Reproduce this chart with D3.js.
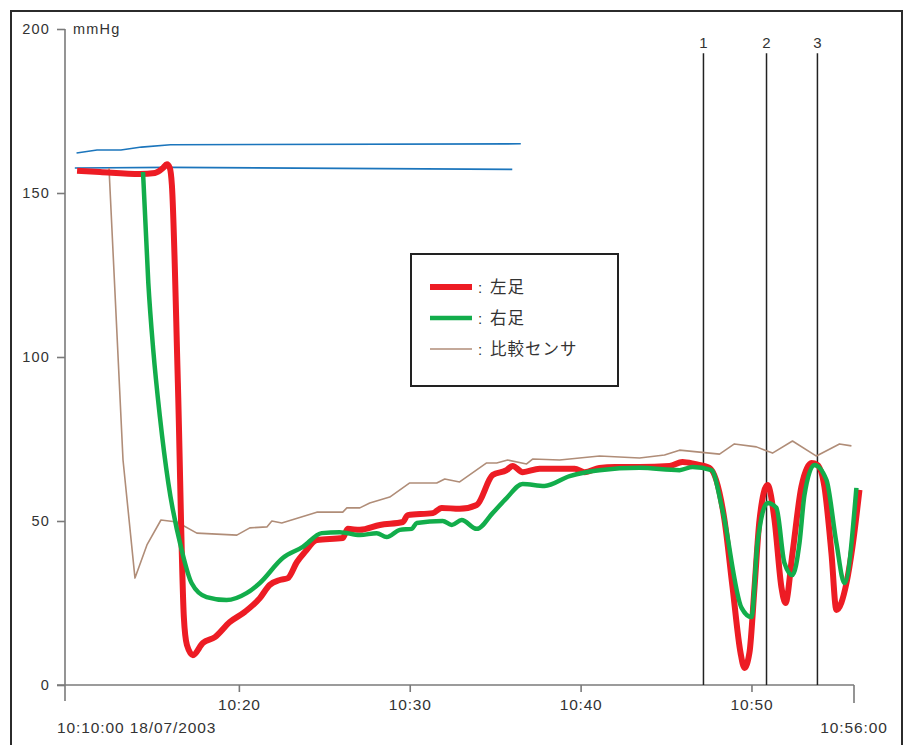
<!DOCTYPE html>
<html><head><meta charset="utf-8">
<script src="https://cdn.jsdelivr.net/npm/d3@7/dist/d3.min.js"></script>
<style>
html,body{margin:0;padding:0;background:#fff;}
svg text{font-family:"Liberation Sans",Arial,sans-serif;fill:#333;}
</style></head>
<body>
<svg id="c" width="909" height="745"></svg>
<script>
// ---- data (t = minutes after 10:10:00, v = mmHg) ----
const seriesNames = ["左足", "右足", "比較センサ"];
const leftFoot = [
 [0.53,156.8],[1.87,156.4],[4.21,155.8],[5.09,156.1],[5.56,157.6],[5.79,158.8],[5.96,157.6],[6.08,152.4],
 [6.43,92.1],[6.78,20.7],[6.96,12.2],[7.31,9.1],[7.89,12.8],[8.6,14.6],[9.47,19.2],[10.35,22.3],
 [11.23,26.5],[11.8,30.5],[12.4,32.0],[12.87,32.6],[13.4,37.5],[13.86,40.5],[14.56,44.2],[16.08,44.8],
 [16.37,47.6],[17.08,47.3],[18.25,48.8],[19.6,49.7],[19.88,51.8],[21.35,52.4],[21.87,54.0],[22.92,53.7],
 [23.92,54.9],[24.85,64.0],[25.67,65.5],[26.02,66.8],[26.61,64.9],[27.6,65.9],[29.65,65.9],[30.23,64.9],
 [31.1,66.2],[32.0,66.5],[33.45,66.5],[35.2,66.8],[35.96,68.0],[36.67,67.4],[37.54,66.2],[38.42,50.3],
 [38.89,29.9],[39.36,9.8],[39.59,5.2],[39.88,9.8],[40.18,29.9],[40.47,50.3],[40.94,61.0],[41.35,50.3],
 [41.75,29.9],[41.99,25.0],[42.4,40.2],[42.92,60.4],[43.51,67.7],[43.86,67.1],[44.27,60.4],[44.68,40.2],
 [44.97,22.9],[45.56,31.1],[45.91,42.1],[46.32,59.5]
];
const rightFoot = [
 [4.39,156.4],[4.70,122.6],[4.99,102.1],[5.38,81.7],[5.87,61.6],[6.65,41.2],[7.23,31.1],[8.11,26.8],
 [9.28,25.9],[10.45,28.0],[11.23,31.1],[12.57,38.7],[13.74,42.1],[14.85,46.3],
 [15.9,46.6],[17.08,45.7],[18.07,46.3],[18.65,45.1],[19.42,47.3],[20.12,47.6],[20.41,49.4],[21.93,50.0],
 [22.46,48.8],[23.04,50.3],[23.92,47.6],[24.85,52.4],[25.67,57.0],[26.61,61.3],[27.89,60.7],[29.36,63.7],
 [31.1,65.5],[33.45,66.2],[35.79,65.5],[36.55,66.5],[37.66,65.5],[38.3,53.4],[39.42,23.5],[40.0,20.7],
 [40.35,43.3],[40.94,55.5],[41.46,54.0],[41.93,37.2],[42.4,33.5],[42.81,43.3],[43.1,57.9],[43.68,67.1],
 [44.39,62.5],[44.97,43.3],[45.44,31.1],[46.14,60.1]
];
const refSensor = [
 [2.4,157.6],[3.22,68.6],[3.92,32.6],[4.62,42.7],[5.44,50.3],[6.37,49.7],[7.54,46.3],[9.88,45.7],
 [10.64,47.9],[11.64,48.2],[11.93,50.0],[12.51,49.4],[14.56,52.7],[16.08,52.7],[16.32,54.0],[17.08,54.0],
 [17.66,55.5],[18.83,57.3],[20.0,61.6],[21.58,61.6],[22.05,62.8],[22.92,61.9],[24.5,67.7],[25.09,67.7],
 [25.73,68.6],[26.84,67.4],[27.19,68.9],[28.77,68.6],[29.94,69.2],[31.11,69.8],[33.45,69.2],[34.91,70.1],
 [35.79,71.6],[38.13,70.4],[39.0,73.5],[40.29,72.6],[41.23,70.7],[42.4,74.4],[43.8,69.8],[45.15,73.5],
 [45.85,72.9]
];
const cuffUpper = [[0.5,162.2],[1.7,163.1],[3.1,163.1],[4.3,164.0],[6.0,164.7],[26.5,165.0]];
const cuffLower = [[0.4,157.6],[6.0,157.8],[26.0,157.2]];
const markerTimes = [37.19, 40.88, 43.86];
const markerLabels = ["1", "2", "3"];
const yTicks = [0, 50, 100, 150, 200];
const xTickMinutes = [10, 20, 30, 40];
const startLabel = "10:10:00 18/07/2003";
const endLabel = "10:56:00";
const unitLabel = "mmHg";

// ---- setup ----
const t0 = new Date(2003, 6, 18, 10, 10, 0);
const toDate = m => new Date(t0.getTime() + m * 60000);
const svg = d3.select("#c");

const x = d3.scaleTime().domain([toDate(0), toDate(46)]).range([68, 854]);
const y = d3.scaleLinear().domain([0, 200]).range([685, 29]);
const axisX = 65;

// frame
svg.append("path").attr("d", "M11,746 L11,11 L902,11 L902,746")
  .attr("fill", "none").attr("stroke", "#2b2b2b").attr("stroke-width", 2);

// axes
const axisCol = "#7a7a7a";
svg.append("line").attr("x1", axisX).attr("x2", axisX).attr("y1", y(200)).attr("y2", y(0) + 16)
  .attr("stroke", axisCol).attr("stroke-width", 1.6);
svg.append("line").attr("x1", axisX - 8).attr("x2", x(toDate(46))).attr("y1", y(0)).attr("y2", y(0))
  .attr("stroke", axisCol).attr("stroke-width", 1.6);

const gy = svg.append("g").attr("transform", `translate(${axisX},0)`)
  .call(d3.axisLeft(y).tickValues(yTicks).tickSize(8).tickPadding(7).tickFormat(d3.format("d")));
gy.select(".domain").remove();
gy.selectAll(".tick line").attr("stroke", axisCol).attr("stroke-width", 1.6);
gy.selectAll(".tick text").attr("font-size", 14.5).attr("letter-spacing", 1.2)
  .attr("font-family", "Liberation Sans, Arial, sans-serif").attr("fill", "#333");

const gx = svg.append("g").attr("transform", `translate(0,${y(0)})`)
  .call(d3.axisBottom(x).tickValues(xTickMinutes.map(toDate)).tickSize(7).tickPadding(7)
    .tickFormat(d3.timeFormat("%H:%M")));
gx.select(".domain").remove();
gx.selectAll(".tick line").attr("stroke", axisCol).attr("stroke-width", 1.6);
gx.selectAll(".tick text").attr("font-size", 15.5).attr("letter-spacing", 0.8)
  .attr("font-family", "Liberation Sans, Arial, sans-serif").attr("fill", "#333");
// end tick
svg.append("line").attr("x1", x(toDate(46))).attr("x2", x(toDate(46))).attr("y1", y(0)).attr("y2", y(0) + 18)
  .attr("stroke", axisCol).attr("stroke-width", 1.6);

svg.append("text").attr("x", 57).attr("y", 733).attr("font-size", 15.5).attr("letter-spacing", 0.9)
  .text(startLabel);
svg.append("text").attr("x", x(toDate(46))).attr("y", 733).attr("text-anchor", "middle")
  .attr("font-size", 15.5).attr("letter-spacing", 0.9).text(endLabel);
svg.append("text").attr("x", 73).attr("y", y(200) + 5).attr("font-size", 14.5).attr("letter-spacing", 1.2)
  .text(unitLabel);

// marker lines
markerTimes.forEach((m, i) => {
  svg.append("line").attr("x1", x(toDate(m))).attr("x2", x(toDate(m)))
    .attr("y1", y(192.6)).attr("y2", y(0)).attr("stroke", "#222").attr("stroke-width", 1.5);
  svg.append("text").attr("x", x(toDate(m))).attr("y", 48).attr("text-anchor", "middle")
    .attr("font-size", 15).text(markerLabels[i]);
});

// lines
const lineSmooth = d3.line().x(d => x(toDate(d[0]))).y(d => y(d[1])).curve(d3.curveMonotoneX);
const lineLin = d3.line().x(d => x(toDate(d[0]))).y(d => y(d[1]));

const blue = "#1b75bc", red = "#ed1c24", green = "#12ad4b", brown = "#b08d78";
[cuffUpper, cuffLower].forEach(s => svg.append("path").datum(s).attr("d", lineLin)
  .attr("fill", "none").attr("stroke", blue).attr("stroke-width", 1.6));
svg.append("path").datum(refSensor).attr("d", lineLin).attr("fill", "none")
  .attr("stroke", brown).attr("stroke-width", 1.6).attr("stroke-linejoin", "round");
svg.append("path").datum(leftFoot).attr("d", lineSmooth).attr("fill", "none")
  .attr("stroke", red).attr("stroke-width", 6).attr("stroke-linejoin", "round");
svg.append("path").datum(rightFoot).attr("d", lineSmooth).attr("fill", "none")
  .attr("stroke", green).attr("stroke-width", 4.5).attr("stroke-linejoin", "round");

// legend
const lg = svg.append("g");
lg.append("rect").attr("x", 411).attr("y", 254).attr("width", 207).attr("height", 132)
  .attr("fill", "#fff").attr("stroke", "#222").attr("stroke-width", 2);
const legendStyles = [[red, 6], [green, 4.5], [brown, 1.6]];
seriesNames.forEach((n, i) => {
  const yy = 287 + i * 31;
  lg.append("line").attr("x1", 430).attr("x2", 472).attr("y1", yy).attr("y2", yy)
    .attr("stroke", legendStyles[i][0]).attr("stroke-width", legendStyles[i][1]);
  lg.append("text").attr("x", 478).attr("y", yy + 6).attr("font-size", 15).text(":");
  lg.append("text").attr("x", 490).attr("y", yy + 6).attr("font-size", 16.5).attr("letter-spacing", 1)
    .style("font-family", "'Noto Sans CJK JP', sans-serif").text(n);
});
</script>
</body></html>
